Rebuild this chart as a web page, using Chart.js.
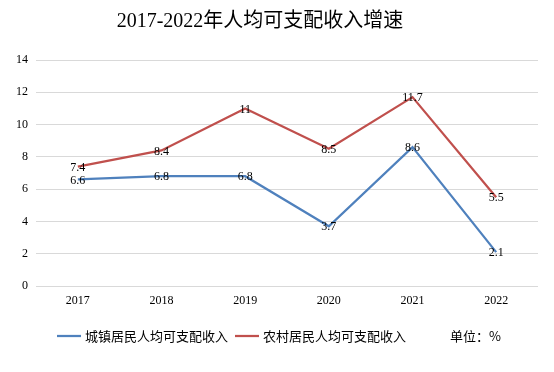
<!DOCTYPE html>
<html><head><meta charset="utf-8">
<script src="https://cdn.jsdelivr.net/npm/chart.js@4/dist/chart.umd.min.js"></script>
<style>html,body{margin:0;padding:0;background:#fff}#wrap{width:554px;height:372px;position:relative}</style>
</head><body><div id="wrap"><canvas id="c"></canvas></div>
<script>
const titleText = '2017-2022年人均可支配收入增速';
const years = ['2017','2018','2019','2020','2021','2022'];
const urbanGrowth = [6.6, 6.8, 6.8, 3.7, 8.6, 2.1];
const ruralGrowth = [7.4, 8.4, 11, 8.5, 11.7, 5.5];
const seriesNames = ['城镇居民人均可支配收入', '农村居民人均可支配收入'];
const unitText = '单位：%';
const yTicks = [0, 2, 4, 6, 8, 10, 12, 14];

const serif = '"Liberation Serif", "Times New Roman", "Noto Sans CJK SC", serif';
const sans = '"Noto Sans CJK SC", "Noto Sans", sans-serif';

const extras = {
  id: 'extras',
  afterDatasetsDraw(chart) {
    const ctx = chart.ctx;
    ctx.save();
    // data labels
    ctx.font = '12px ' + serif;
    ctx.fillStyle = '#000';
    ctx.textAlign = 'center';
    ctx.textBaseline = 'middle';
    chart.data.datasets.forEach((ds, i) => {
      const meta = chart.getDatasetMeta(i);
      meta.data.forEach((pt, j) => {
        ctx.fillText(String(ds.data[j]), pt.x, pt.y + 1);
      });
    });
    // title
    ctx.font = '20px ' + serif;
    ctx.fillStyle = '#000';
    ctx.textAlign = 'center';
    ctx.fillText(titleText, 260, 22);
    // legend
    ctx.font = '13px ' + sans;
    ctx.textAlign = 'left';
    const y = 336;
    const starts = [57, 235];
    chart.data.datasets.forEach((ds, i) => {
      const x = starts[i];
      ctx.strokeStyle = ds.borderColor;
      ctx.lineWidth = 2.25;
      ctx.beginPath(); ctx.moveTo(x, y); ctx.lineTo(x + 24, y); ctx.stroke();
      ctx.fillStyle = '#000';
      ctx.fillText(ds.label, x + 28, y);
    });
    ctx.fillText(unitText, 450, y);
    ctx.restore();
  }
};

new Chart(document.getElementById('c'), {
  type: 'line',
  data: {
    labels: years,
    datasets: [
      { label: seriesNames[0], data: urbanGrowth, borderColor: '#4F81BD', backgroundColor: '#4F81BD', borderWidth: 2.25, pointRadius: 0, tension: 0, fill: false },
      { label: seriesNames[1], data: ruralGrowth, borderColor: '#C0504D', backgroundColor: '#C0504D', borderWidth: 2.25, pointRadius: 0, tension: 0, fill: false }
    ]
  },
  options: {
    responsive: true,
    maintainAspectRatio: false,
    animation: false,
    layout: { padding: { top: 60, left: 0, right: 16, bottom: 56 } },
    plugins: { legend: { display: false }, title: { display: false }, tooltip: { enabled: false } },
    scales: {
      x: {
        offset: true,
        grid: { display: false, drawTicks: false },
        border: { display: false },
        ticks: { font: { family: serif, size: 12 }, color: '#000', padding: 8 },
        afterFit(s) { s.height = 30; }
      },
      y: {
        min: 0, max: 14,
        afterBuildTicks(s) { s.ticks = yTicks.map(v => ({ value: v })); },
        grid: { color: '#d9d9d9', lineWidth: 1, drawTicks: false },
        border: { display: false },
        ticks: { font: { family: serif, size: 12 }, color: '#000', padding: 8 },
        afterFit(s) { s.width = 36; }
      }
    }
  },
  plugins: [extras]
});
</script>
</body></html>
